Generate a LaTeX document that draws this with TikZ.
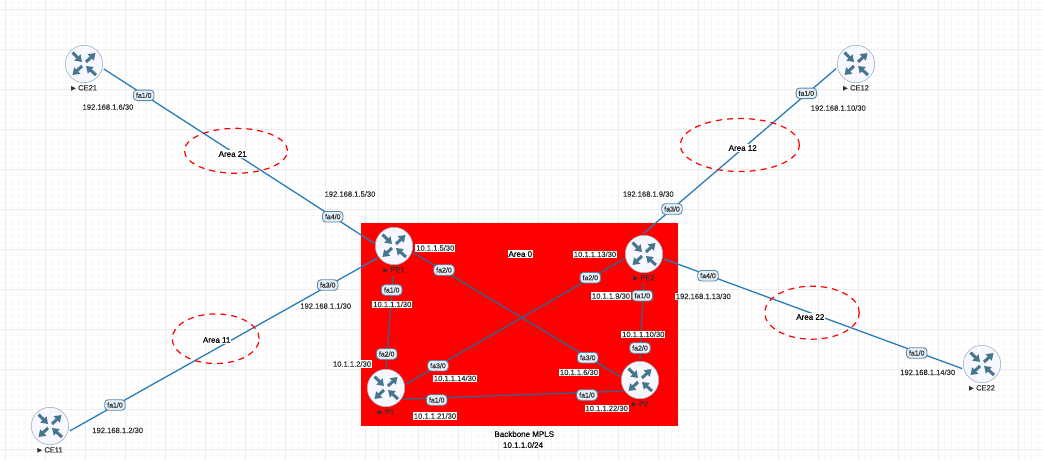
\documentclass[tikz,border=0pt]{standalone}
\usepackage{fontspec}
\setmainfont{Liberation Sans}[FakeBold=0.25]
\newfontfamily\symfont{DejaVu Sans}
\usetikzlibrary{positioning,shapes.geometric,arrows.meta}
\definecolor{gridmajor}{HTML}{EBEBEB}
\definecolor{gridminor}{HTML}{F8F8F8}
\definecolor{linkblue}{HTML}{2B7CB6}
\definecolor{corelink}{HTML}{33658F}
\definecolor{iconblue}{HTML}{45758F}
\definecolor{ringblue}{HTML}{9DB5C3}
\definecolor{pillfill}{HTML}{E4EFF9}
\definecolor{pilldraw}{HTML}{5C88A8}
\definecolor{labelgray}{HTML}{303030}
\newcommand{\hostmark}{{\symfont\fontsize{6.5pt}{7pt}\selectfont ▶}}
\tikzset{
	router/.style={circle,draw=ringblue,line width=0.6pt,fill=white!97!blue,minimum size=37.4pt,inner sep=0pt,outer sep=1.7pt},
	routerarrow/.style={draw=iconblue,line width=3pt,-{Triangle[length=6.5pt,width=8.5pt]},color=iconblue},
	routericon/.pic={
		\draw[routerarrow] (-11.5,-11.5) -- (-2,-2);
		\draw[routerarrow] (2,-2) -- (11.5,-11);
		\draw[routerarrow] (-2,2) -- (-11.5,11);
		\draw[routerarrow] (12,11) -- (2,2);
	},
	hostlabel/.style={font=\fontsize{7.5pt}{8pt}\selectfont,text=labelgray,inner sep=0pt,outer sep=0pt},
	link/.style={draw=linkblue,line width=1.3pt},
	coreline/.style={draw=corelink,line width=1.3pt},
	ifpill/.style={draw=pilldraw,line width=0.9pt,fill=pillfill,rounded corners=3.5pt,minimum width=20.5pt,minimum height=10.5pt,inner sep=0pt,font=\fontsize{7pt}{8pt}\selectfont,text=labelgray},
	iplabel/.style={fill=white,inner sep=0.8pt,font=\fontsize{7.6pt}{8.5pt}\selectfont,text=labelgray},
	areaoval/.style={ellipse,draw=red,line width=1.2pt,dash pattern=on 6pt off 5pt,inner sep=0pt},
	arealabel/.style={fill=white,inner sep=1pt,font=\fontsize{8pt}{9pt}\selectfont,text=black},
}
\begin{document}
\begin{tikzpicture}[x=1pt,y=-1pt]
	\useasboundingbox (0,0) rectangle (1043,460);

	% background grid, the sheet has a seam near x=370
	\foreach \n in {0,...,55} {
		\draw[gridminor,line width=0.5pt] (5+\n*6.667,0) -- (5+\n*6.667,460);
	}
	\foreach \n in {0,...,100} {
		\draw[gridminor,line width=0.5pt] (378+\n*6.667,0) -- (378+\n*6.667,460);
	}
	\foreach \n in {-1,...,68} {
		\draw[gridminor,line width=0.5pt] (0,9+\n*6.667) -- (1043,9+\n*6.667);
	}
	\foreach \n in {0,...,9} {
		\draw[gridmajor,line width=0.9pt] (5+\n*40,0) -- (5+\n*40,460);
	}
	\foreach \n in {0,...,16} {
		\draw[gridmajor,line width=0.9pt] (378+\n*40,0) -- (378+\n*40,460);
	}
	\foreach \n in {0,...,11} {
		\draw[gridmajor,line width=0.9pt] (0,9+\n*40) -- (1043,9+\n*40);
	}

	% backbone area
	\fill[red] (361,223) rectangle (678,425.5);

	% routers
	\node[router] (CE21) at (84,64) {};
	\node[router] (CE12) at (856,64) {};
	\node[router] (CE11) at (50,426) {};
	\node[router] (CE22) at (982,364) {};
	\node[router] (PE1) at (394,246) {};
	\node[router] (PE2) at (644,254) {};
	\node[router] (P1) at (386,388) {};
	\node[router] (P2) at (640,380) {};
	\pic at (CE21) {routericon};
	\pic at (CE12) {routericon};
	\pic at (CE11) {routericon};
	\pic at (CE22) {routericon};
	\pic at (PE1) {routericon};
	\pic at (PE2) {routericon};
	\pic at (P1) {routericon};
	\pic at (P2) {routericon};

	% router names
	\node[hostlabel,below=0.8pt of CE21] (CE21name) {\hostmark\ CE21};
	\node[hostlabel,below=0.8pt of CE12] (CE12name) {\hostmark\ CE12};
	\node[hostlabel,below=0.8pt of CE11] (CE11name) {\hostmark\ CE11};
	\node[hostlabel,below=0.8pt of CE22] (CE22name) {\hostmark\ CE22};
	\node[hostlabel,below=0.8pt of PE1] (PE1name) {\hostmark\ PE1};
	\node[hostlabel,below=0.8pt of PE2] (PE2name) {\hostmark\ PE2};
	\node[hostlabel,below=0.8pt of P1] (P1name) {\hostmark\ P1};
	\node[hostlabel,below=0.8pt of P2] (P2name) {\hostmark\ P2};

	% links
	\draw[link] (CE21.-14) -- (PE1.172);
	\draw[link] (CE11.-14) -- (PE1.216);
	\draw[link] (CE12.193) -- (PE2.92);
	\draw[link] (CE22.193) -- (PE2.-14);
	\draw[coreline,shorten <=10pt] (PE1.-90) -- (P1.90);
	\draw[coreline] (PE1.-19) -- (P2.170);
	\draw[coreline] (PE2.194) -- (P1.11);
	\draw[coreline] (P1.-33) -- (P2.213);
	\draw[coreline,shorten <=9pt] (PE2.-90) -- (P2.90);

	% OSPF areas
	\node[areaoval,minimum width=103pt,minimum height=45pt] (area21) at (236,150.8) {};
	\node[areaoval,minimum width=119pt,minimum height=53pt] (area12) at (739.8,145) {};
	\node[areaoval,minimum width=94.6pt,minimum height=53pt] (area22) at (812,312.7) {};
	\node[areaoval,minimum width=87pt,minimum height=49.6pt] (area11) at (215.7,338.7) {};
	\node[arealabel] (area21text) at (232.7,154) {Area 21};
	\node[arealabel] (area12text) at (742.7,148) {Area 12};
	\node[arealabel] (area22text) at (810.3,317) {Area 22};
	\node[arealabel] (area11text) at (216.7,340) {Area 11};
	\node[arealabel] (area0text) at (520.3,254) {Area 0};

	% interface names
	\node[ifpill] (CE21fa) at (143.7,95.3) {fa1/0};
	\node[ifpill] (PE1fa4) at (332.7,216.7) {fa4/0};
	\node[ifpill] (PE1fa3) at (327.7,285) {fa3/0};
	\node[ifpill] (CE11fa) at (115,405) {fa1/0};
	\node[ifpill] (PE1fa2) at (444,270) {fa2/0};
	\node[ifpill] (PE1fa1) at (391.7,290) {fa1/0};
	\node[ifpill] (P1fa2) at (386.7,354) {fa2/0};
	\node[ifpill] (P1fa3) at (438,365.7) {fa3/0};
	\node[ifpill] (P1fa1) at (436.7,400) {fa1/0};
	\node[ifpill] (P2fa1) at (587,395) {fa1/0};
	\node[ifpill] (P2fa3) at (587.7,357.7) {fa3/0};
	\node[ifpill] (P2fa2) at (640,348) {fa2/0};
	\node[ifpill] (PE2fa1) at (642.3,295.7) {fa1/0};
	\node[ifpill] (PE2fa2) at (590.3,277.7) {fa2/0};
	\node[ifpill] (CE12fa) at (806.3,93.3) {fa1/0};
	\node[ifpill] (PE2fa3) at (672,209) {fa3/0};
	\node[ifpill] (PE2fa4) at (708,275.7) {fa4/0};
	\node[ifpill] (CE22fa) at (916.7,353) {fa1/0};

	% addresses
	\node[iplabel] (ipCE21) at (108,107) {192.168.1.6/30};
	\node[iplabel] (ipPE1a) at (350,194) {192.168.1.5/30};
	\node[iplabel] (ipPE1b) at (325.7,306) {192.168.1.1/30};
	\node[iplabel] (ipCE11) at (117.7,430.3) {192.168.1.2/30};
	\node[iplabel] (ipCE12) at (838.3,108) {192.168.1.10/30};
	\node[iplabel] (ipPE2a) at (648.3,194) {192.168.1.9/30};
	\node[iplabel] (ipPE2b) at (703.3,296.3) {192.168.1.13/30};
	\node[iplabel] (ipCE22) at (927.7,372.3) {192.168.1.14/30};
	\node[iplabel] (ipa) at (435.3,248) {10.1.1.5/30};
	\node[iplabel] (ipb) at (392.3,304.3) {10.1.1.1/30};
	\node[iplabel] (ipc) at (352,364) {10.1.1.2/30};
	\node[iplabel] (ipd) at (455,378.3) {10.1.1.14/30};
	\node[iplabel] (ipe) at (435,416) {10.1.1.21/30};
	\node[iplabel] (ipf) at (606.7,408.3) {10.1.1.22/30};
	\node[iplabel] (ipg) at (579,372.3) {10.1.1.6/30};
	\node[iplabel] (iph) at (643.3,334.3) {10.1.1.10/30};
	\node[iplabel] (ipi) at (611,296) {10.1.1.9/30};
	\node[iplabel] (ipj) at (595,254.3) {10.1.1.13/30};

	% backbone caption
	\node[arealabel] (backbone) at (524.3,434) {Backbone MPLS};
	\node[arealabel] (backbonenet) at (523,445) {10.1.1.0/24};
\end{tikzpicture}
\end{document}
